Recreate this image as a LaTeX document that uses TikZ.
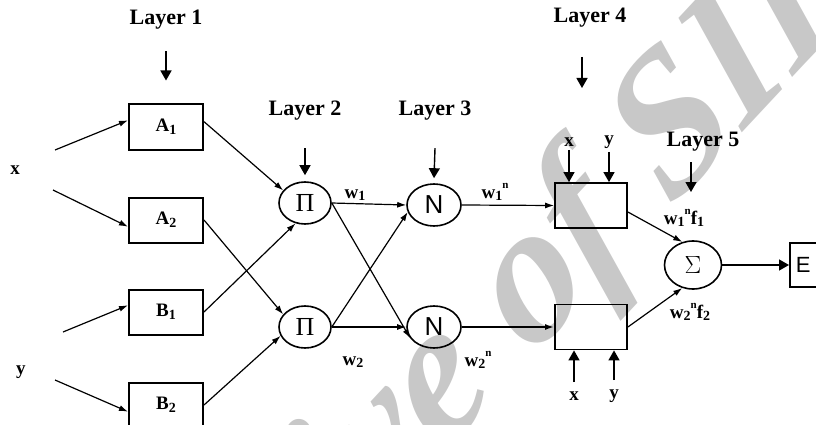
\documentclass[tikz,border=0pt]{standalone}
\usepackage{fontspec}
\setmainfont{Liberation Serif}
\newfontfamily\plainsans{Liberation Sans}
\usetikzlibrary{arrows.meta,positioning,shapes.geometric}

\definecolor{wmgray}{RGB}{200,200,200}
\newcommand{\lo}[1]{\raisebox{-0.3ex}{\fontsize{14}{14}\selectfont #1}}
\newcommand{\hi}[1]{\raisebox{1.1ex}{\fontsize{11}{11}\selectfont #1}}

\begin{document}
\begin{tikzpicture}[
    x=1pt, y=-1pt,
    font=\fontsize{19}{22}\selectfont\bfseries,
    arrow/.style={
        -{Latex[length=9pt,width=6pt]},
        line width=1.2pt
    },
    feed/.style={
        -{Triangle[length=10pt,width=11pt]},
        line width=1.4pt
    },
    layer/.style={
        font=\fontsize{22}{24}\selectfont\bfseries
    },
    mfbox/.style={
        rectangle,
        draw,
        line width=2pt,
        minimum width=74pt,
        minimum height=45pt,
        inner sep=0pt
    },
    rulebox/.style={
        rectangle,
        draw,
        line width=1.8pt,
        minimum width=72pt,
        minimum height=45pt,
        inner sep=0pt
    },
    neuron/.style={
        ellipse,
        draw,
        line width=1.6pt,
        minimum width=52pt,
        minimum height=42pt,
        inner sep=0pt,
        font=\fontsize{26}{26}\selectfont\mdseries
    },
    outbox/.style={
        rectangle,
        draw,
        line width=1.8pt,
        minimum height=44pt,
        text width=34pt,
        inner xsep=6pt,
        align=left,
        font=\fontsize{22}{22}\selectfont\plainsans
    }
]
\useasboundingbox (0,0) rectangle (816,425);

\node[rotate=47, xslant=0.15, text=wmgray, font=\fontsize{190}{190}\selectfont\bfseries\itshape] (wm) at (455,372) {Archive of SID};

\node[layer] (lay1) at (166,20) {Layer 1};
\node[layer] (lay2) at (305,111) {Layer 2};
\node[layer] (lay3) at (435,111) {Layer 3};
\node[layer] (lay4) at (590,18) {Layer 4};
\node[layer] (lay5) at (703,142) {Layer 5};

\node (inx) at (15,170) {x};
\node (iny) at (21,372) {y};

\node[mfbox] (A1) at (166,127) {A\lo{1}};
\node[mfbox] (A2) at (166,220) {A\lo{2}};
\node[mfbox] (B1) at (166,312) {B\lo{1}};
\node[mfbox] (B2) at (166,405) {B\lo{2}};

\node[neuron] (P1) at (305,203) {Π};
\node[neuron] (P2) at (305,327) {Π};
\node[neuron, minimum width=54pt] (N1) at (434,205) {\plainsans N};
\node[neuron, minimum width=54pt] (N2) at (434,327) {\plainsans N};

\node[rulebox] (R1) at (591,205.5) {};
\node[rulebox] (R2) at (591,327) {};

\node[neuron, minimum width=57pt, minimum height=48pt] (S) at (693,265) {$\Sigma$};
\node[outbox, anchor=west] (out) at (789,265) {E};

\node (w1) at (355,195) {w\lo{1}};
\node (w2) at (353,362) {w\lo{2}};
\node (w1n) at (495,192) {w\lo{1}\hi{n}};
\node (w2n) at (478,360) {w\lo{2}\hi{n}};
\node (w1f) at (684,218) {w\lo{1}\hi{n}f\lo{1}};
\node (w2f) at (690,312) {w\lo{2}\hi{n}f\lo{2}};

\node (rx1) at (569,142) {x};
\node (ry1) at (609,142) {y};
\node (rx2) at (574,396) {x};
\node (ry2) at (614,396) {y};

\coordinate (xa) at (55,150);
\coordinate (xb) at (53,190);
\coordinate (ya) at (63,332);
\coordinate (yb) at (55,380);
\coordinate (l4a) at (582,57);
\coordinate (l4b) at (582,88);
\coordinate (l5a) at (691,162);
\coordinate (l5b) at (691,192);

\draw[feed] ([yshift=-18pt]lay1.south) -- ([yshift=23pt]A1.north);
\draw[feed] ([yshift=-24pt]lay2.south) -- ([yshift=6pt]P1.north);
\draw[feed] ([yshift=-24pt]lay3.south) -- ([yshift=5pt]N1.north);
\draw[feed] (l4a) -- (l4b);
\draw[feed] (l5a) -- (l5b);

\draw[arrow] (xa) -- (A1.170);
\draw[arrow] (xb) -- (A2.190);
\draw[arrow] (ya) -- (B1.170);
\draw[arrow] (yb) -- (B2.190);

\draw[arrow] (A1.8) -- (P1.150);
\draw[arrow] (A2.east) -- (P2.150);
\draw[arrow] (B1.east) -- (P1.245);
\draw[arrow] (B2.east) -- (P2.200);

\draw[arrow] (P1.east) -- (N1.west);
\draw[arrow] (P1.east) -- (N2.205);
\draw[arrow] (P2.east) -- (N1.195);
\draw[arrow] (P2.east) -- (N2.west);

\draw[arrow] (N1.east) -- (R1.west);
\draw[arrow, line width=2pt] (N2.east) -- (R2.west);

\draw[feed] (rx1.south) -- (rx1.south |- R1.north);
\draw[feed] (ry1.south) -- (ry1.south |- R1.north);
\draw[feed] ([yshift=6pt]rx2.north) -- (rx2.north |- R2.south);
\draw[feed] ([yshift=6pt]ry2.north) -- (ry2.north |- R2.south);

\draw[arrow] (R1.-10) -- (S.115);
\draw[arrow] (R2.east) -- (S.245);
\draw[feed] (S.east) -- (out.west);
\end{tikzpicture}
\end{document}
